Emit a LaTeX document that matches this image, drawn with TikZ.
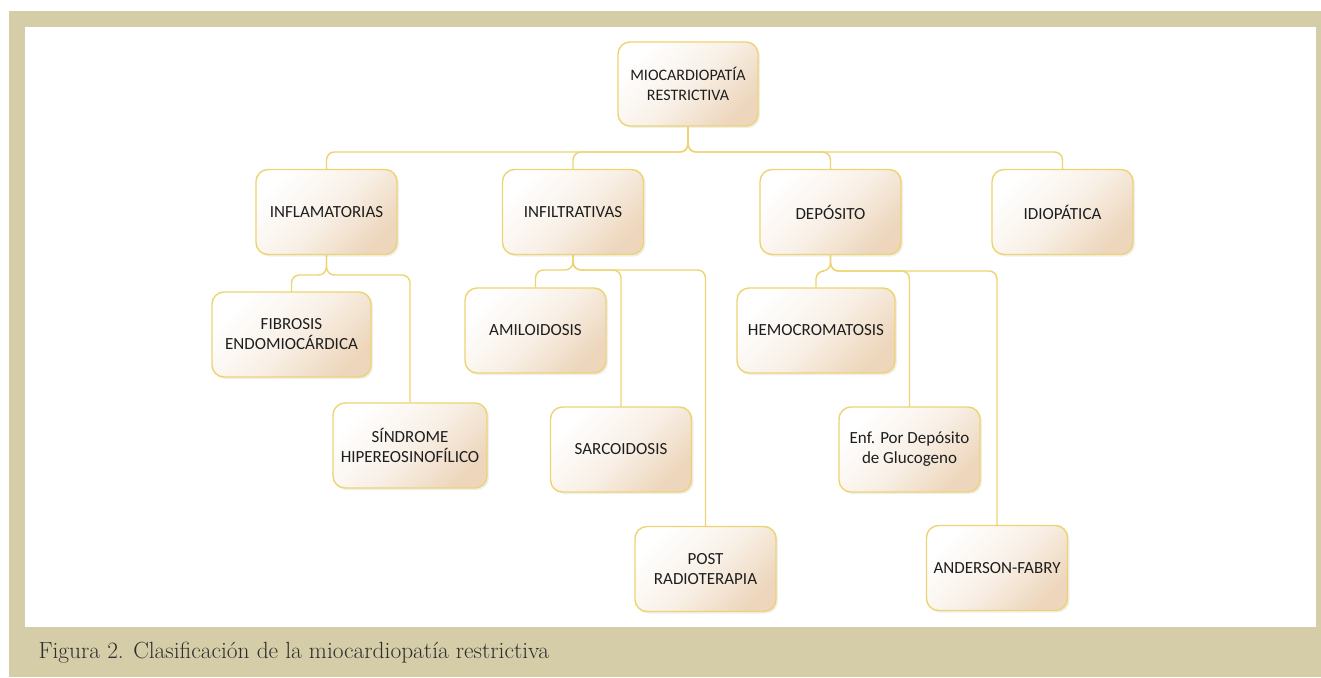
\documentclass[tikz,border=0pt]{standalone}
\usepackage{fontspec}
\setsansfont{Carlito}
\usetikzlibrary{shadows}
\definecolor{marco}{HTML}{D5CDA8}
\definecolor{borde}{HTML}{EDD472}
\definecolor{fondo}{HTML}{EDD6BC}
\definecolor{texto}{HTML}{1E1E1E}
\tikzstyle{caja}=[rectangle, rounded corners=12pt, draw=borde, line width=1.4pt,
    left color=white, right color=fondo, middle color=fondo!35, shading angle=45,
    drop shadow={opacity=0.12, shadow xshift=2pt, shadow yshift=-2pt},
    minimum width=141pt, minimum height=85pt, inner sep=4pt,
    align=center, text=texto, font=\sffamily\fontsize{17}{20}\selectfont]
\newcommand{\caja}{\node[caja]}

\begin{document}
\begin{tikzpicture}[x=1pt, y=-1pt
    ,every edge/.style={draw=borde, line width=1.4pt, rounded corners=8pt}
    ,rama/.style={to path={(\tikztostart) |- (\tikztotarget |- #1) -- (\tikztotarget)}}
]
\useasboundingbox (0,0) rectangle (1321,677);
\fill[marco] (9,11) rectangle (1321,677);
\fill[white] (25,27) rectangle (1316,627);
\node[anchor=west, text=black!82, font=\fontsize{23.4}{26}\selectfont] (pie) at (35,653)
    {Figura 2. Clasificación de la miocardiopatía restrictiva};

\coordinate (busA) at (0,152);
\coordinate (busB) at (0,275);
\coordinate (busC) at (0,270);
\coordinate (busD) at (0,271);

\caja[minimum width=140pt, minimum height=84pt, font=\sffamily\fontsize{16}{20}\selectfont] (mio) at (688,84) {MIOCARDIOPATÍA\\RESTRICTIVA};
\caja (inf) at (326.5,212) {INFLAMATORIAS};
\caja (ifl) at (573,212) {INFILTRATIVAS};
\caja (dep) at (830.5,212) {DEPÓSITO};
\caja (idi) at (1062.5,212) {IDIOPÁTICA};
\caja[minimum width=159pt] (fib) at (291.5,334.5) {FIBROSIS\\ENDOMIOCÁRDICA};
\caja[minimum width=154pt] (sin) at (410,445.5) {SÍNDROME\\HIPEREOSINOFÍLICO};
\caja (ami) at (535.5,330.5) {AMILOIDOSIS};
\caja (sar) at (621,449.5) {SARCOIDOSIS};
\caja (pos) at (705.5,569) {POST\\RADIOTERAPIA};
\caja[minimum width=158pt] (hem) at (816,330.5) {HEMOCROMATOSIS};
\caja (enf) at (909.5,449.5) {Enf. Por Depósito\\de Glucogeno};
\caja (and) at (997,568) {ANDERSON-FABRY};
\path
(mio) edge[rama=busA] (inf) edge[rama=busA] (ifl) edge[rama=busA] (dep) edge[rama=busA] (idi)
(inf) edge[rama=busB] (fib) edge[rama=busB] (sin)
(ifl) edge[rama=busC] (ami) edge[rama=busC] (sar) edge[rama=busC] (pos)
(dep) edge[rama=busD] (hem) edge[rama=busD] (enf) edge[rama=busD] (and)
;
\end{tikzpicture}
\end{document}
